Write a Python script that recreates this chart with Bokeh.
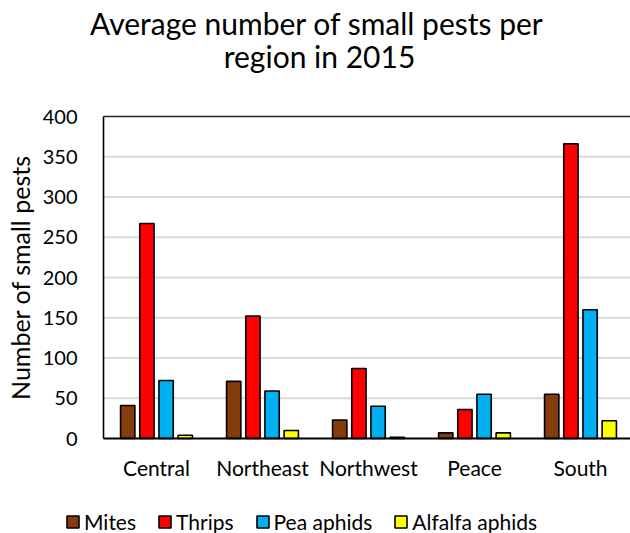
from bokeh.plotting import figure
from bokeh.models import (Range1d, FixedTicker, Legend, LegendItem, Label,
                          ColumnDataSource)
from bokeh.transform import dodge
from bokeh.embed import file_html
from bokeh.resources import INLINE

# Average small-pest counts per region, 2015
regions = ["Central", "Northeast", "Northwest", "Peace", "South"]
mites = [41, 71, 23, 7, 55]
thrips = [267, 152, 87, 36, 366]
pea_aphids = [72, 59, 40, 55, 160]
alfalfa_aphids = [4, 10, 1.5, 7, 22]

series_names = ["Mites", "Thrips", "Pea aphids", "Alfalfa aphids"]
series_keys = ["mites", "thrips", "pea_aphids", "alfalfa_aphids"]
series_colors = ["#843C0C", "#FF0000", "#00B0F0", "#FFFF00"]
y_ticks = [0, 50, 100, 150, 200, 250, 300, 350, 400]
title_lines = ["Average number of small pests per", "region in 2015"]

FONT = "Lato"
W, H = 630, 533

# Page geometry (pixels): plot area left edge, top (y=400) and zero line,
# and the width of one region slot.
AREA_LEFT, AREA_TOP, AREA_ZERO, SLOT = 103, 116, 438, 106
Y_MAX = y_ticks[-1]
PX_PER_UNIT = (AREA_ZERO - AREA_TOP) / Y_MAX

x_lo = -0.5 - AREA_LEFT / SLOT
x_hi = -0.5 + (W - AREA_LEFT) / SLOT
y_lo = -(H - AREA_ZERO) / PX_PER_UNIT
y_hi = Y_MAX + AREA_TOP / PX_PER_UNIT

p = figure(width=W, height=H,
           x_range=Range1d(x_lo, x_hi), y_range=Range1d(y_lo, y_hi),
           output_backend="svg", toolbar_location=None, min_border=0)
p.outline_line_color = None
p.grid.grid_line_color = None

# horizontal gridlines, with a darker line closing the top of the area
p.segment(x0=-0.5, x1=x_hi, y0=y_ticks[1:-1], y1=y_ticks[1:-1],
          line_color="#D9D9D9", line_width=2)
p.segment(x0=-0.5, x1=x_hi, y0=Y_MAX, y1=Y_MAX,
          line_color="#262626", line_width=1.6)

source = ColumnDataSource(dict(
    x=list(range(len(regions))),
    mites=mites,
    thrips=thrips,
    pea_aphids=pea_aphids,
    alfalfa_aphids=alfalfa_aphids,
))

pitch = 0.181
bar_w = 0.135
bars = []
for i, (key, color) in enumerate(zip(series_keys, series_colors)):
    bars.append(p.vbar(x=dodge("x", (i - 1.5) * pitch, range=p.x_range),
                       top=key, width=bar_w, bottom=0, source=source,
                       fill_color=color, line_color="black",
                       line_width=1.6))

# axes pinned to the zero line and to the left edge of the bar area
xa, ya = p.xaxis[0], p.yaxis[0]
xa.fixed_location = 0
xa.bounds = (-0.5, x_hi)
ya.fixed_location = -0.5
ya.bounds = (0, Y_MAX)
xa.ticker = FixedTicker(ticks=list(range(len(regions))))
xa.major_label_overrides = {i: name for i, name in enumerate(regions)}
ya.ticker = FixedTicker(ticks=y_ticks)
for ax in (xa, ya):
    ax.major_tick_line_color = None
    ax.minor_tick_line_color = None
    ax.axis_line_color = "black"
    ax.major_label_text_font = FONT
    ax.major_label_text_color = "black"
xa.major_label_text_font_size = "21px"
ya.major_label_text_font_size = "20px"
xa.axis_line_width = 2
ya.axis_line_width = 1.6
xa.major_label_standoff = 10
ya.major_label_standoff = 20
ya.axis_label = "Number of small pests"
ya.axis_label_text_font = FONT
ya.axis_label_text_font_size = "25px"
ya.axis_label_text_font_style = "normal"
ya.axis_label_text_color = "black"
ya.axis_label_standoff = 5

# two-line title
for text, cx, cy in zip(title_lines, (316.5, 319), (H - 22, H - 55)):
    p.add_layout(Label(x=cx, y=cy, x_units="screen", y_units="screen",
                       text=text, text_align="center",
                       text_baseline="alphabetic", text_font=FONT,
                       text_font_size="30px", text_color="black"))

legend = Legend(items=[LegendItem(label=n, renderers=[r])
                       for n, r in zip(series_names, bars)],
                orientation="horizontal", location=(65, -1),
                glyph_width=15, glyph_height=15, label_standoff=4,
                spacing=21, padding=0, margin=0,
                border_line_color=None, background_fill_alpha=0,
                label_text_font=FONT, label_text_font_size="21px",
                label_text_color="black")
p.add_layout(legend, "center")

open("out.html", "w").write(file_html(p, INLINE))
